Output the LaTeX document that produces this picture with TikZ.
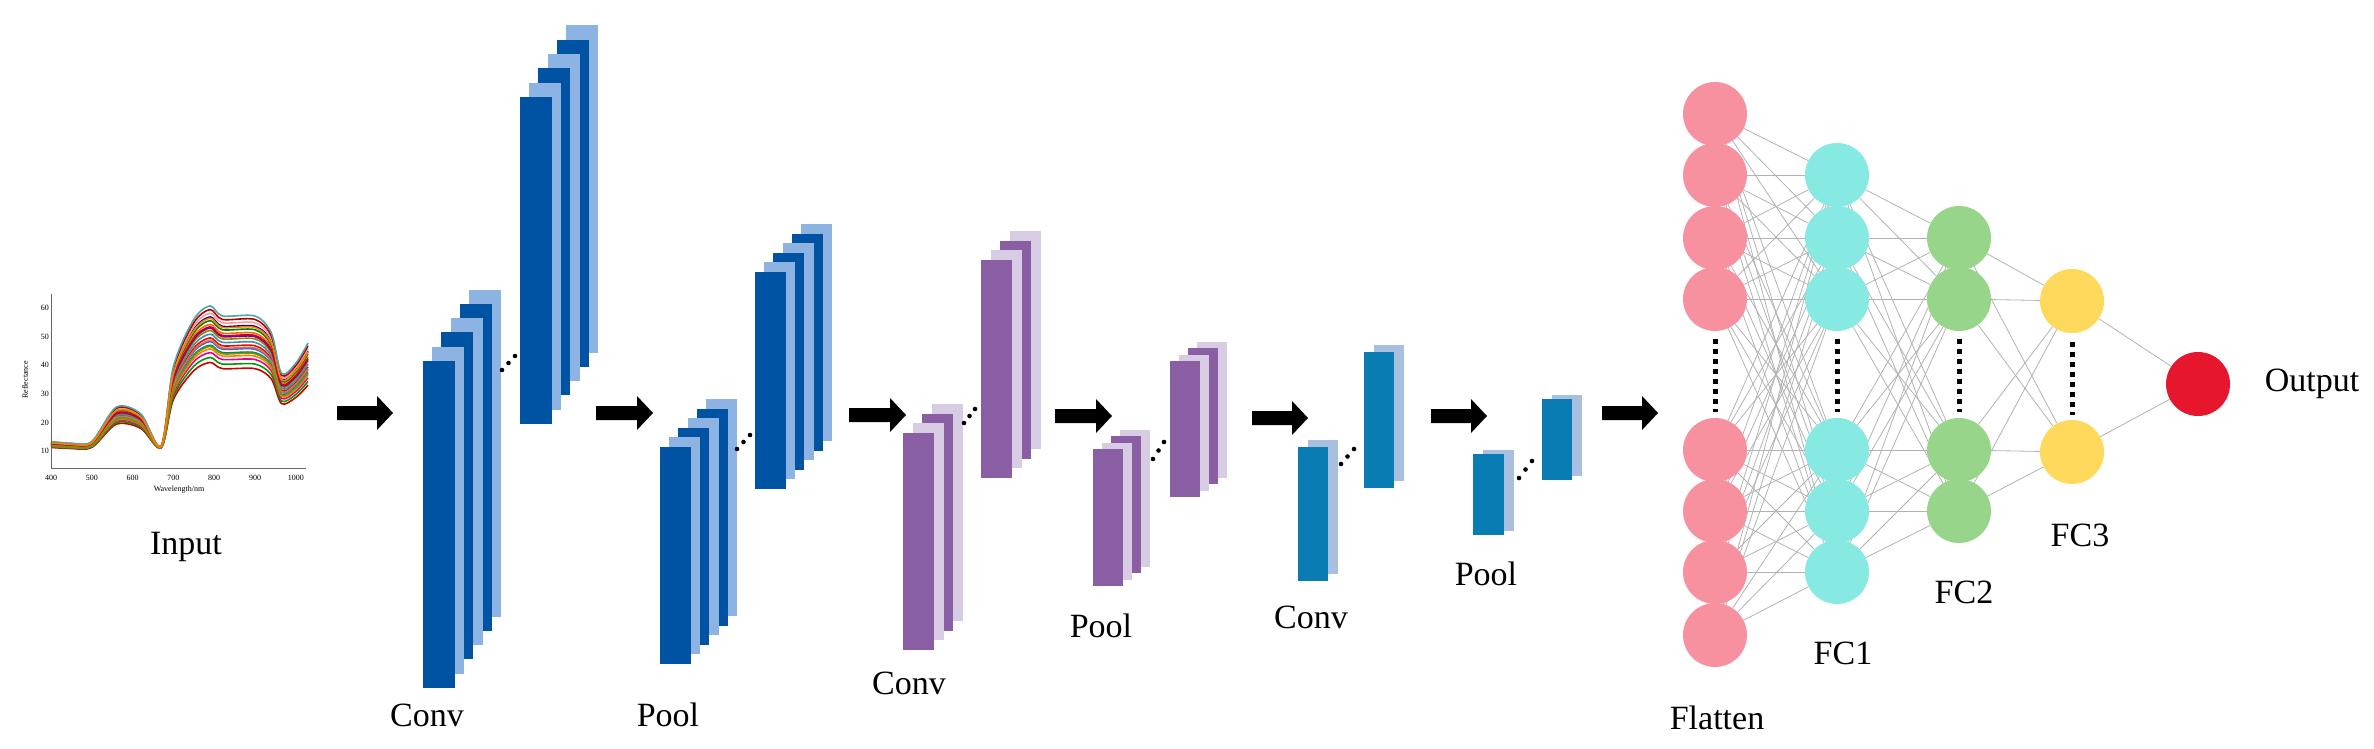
\documentclass[tikz,border=0pt]{standalone}
\usepackage{fontspec}
\setmainfont{Liberation Serif}
\usetikzlibrary{backgrounds}
\definecolor{dblue}{HTML}{0052A3}
\definecolor{lblue}{HTML}{8DB3E2}
\definecolor{dpurp}{HTML}{8A5EA2}
\definecolor{lpurp}{HTML}{D8CCE5}
\definecolor{tblue}{HTML}{0A7CB4}
\definecolor{ltblue}{HTML}{A8BFE0}
\definecolor{cpink}{HTML}{F8919F}
\definecolor{ccyan}{HTML}{86E9E2}
\definecolor{cgreen}{HTML}{97D68A}
\definecolor{cyell}{HTML}{FFD95B}
\definecolor{cred}{HTML}{E6162D}
\newcommand\fstack[9]{%
  \foreach \i in {#5,...,0}{%
    \pgfmathparse{int(mod(\i,2))}%
    \ifnum\pgfmathresult=0 \def\cc{#8}\else\def\cc{#9}\fi
    \fill[\cc] ({#1+\i*#6},{#2-\i*#7}) rectangle ++(#3,#4);
  }}
\newcommand\bigarr[3]{%
  \fill (#1,#3-7) -- (#2-16,#3-7) -- (#2-16,#3-17) -- (#2,#3) -- (#2-16,#3+17) -- (#2-16,#3+7) -- (#1,#3+7) -- cycle;}
\newcommand\tdots[4]{%
  \foreach \t in {0,0.5,1}{\fill ({#1+\t*(#3-#1)},{#2+\t*(#4-#2)}) circle (2.3);}}
\begin{document}
\begin{tikzpicture}[x=1pt,y=-1pt,
  lab/.style={font=\fontsize{34}{36}\selectfont},
  neu/.style={circle,minimum size=64pt,inner sep=0pt},
  edge/.style={gray!60,line width=0.8pt},
  vdots/.style={line width=5pt,dash pattern=on 5pt off 5pt}]
\useasboundingbox (0,0) rectangle (2374,749);
% ---------- input plot ----------
\begin{scope}[shift={(51,451)},x=0.408pt,y=2.86pt]
  \foreach \k/\c [count=\n] in {0.72/red!80!black,0.76/green!60!black,0.8/magenta,0.83/orange,0.86/teal,0.89/blue!70,0.92/red,0.95/cyan!70!black,0.98/olive,1.0/violet,1.03/orange!80!red,1.06/green!50!black,1.09/blue!60!black,1.12/pink!80!red,1.15/red!70!black,1.18/teal!70,0.9/brown,1.01/purple,0.85/lime!60!black,1.08/orange}{
    \draw[\c,line width=1.6pt] plot[smooth] coordinates {(0,{4.5*\k-2}) (50,{4*\k-2}) (100,{4.5*\k-2}) (160,{13*\k}) (220,{11*\k}) (270,{1.5*\k}) (300,{25*\k}) (350,{39*\k}) (390,{43*\k}) (420,{40*\k}) (500,{40*\k}) (540,{35*\k}) (565,{23*\k}) (600,{26*\k}) (630,{32*\k})};
  }
\end{scope}
\draw[gray!80!black,line width=0.8pt] (51,294) -- (51,468) -- (306,468);
\foreach \v in {10,20,...,60}{
  \node[font=\fontsize{8}{9}\selectfont,anchor=east,inner sep=1pt] (yt\v) at (50,{451-(\v-10)*2.86}) {\v};}
\foreach \v in {400,500,...,1000}{
  \node[font=\fontsize{8}{9}\selectfont,inner sep=1pt] (xt\v) at ({51+(\v-400)*0.408},478) {\v};}
\node[font=\fontsize{8}{9}\selectfont,inner sep=1pt] (xl) at (179,490) {Wavelength/nm};
\node[font=\fontsize{8}{9}\selectfont,inner sep=1pt,rotate=90] (yl) at (25,380) {Reflectance};
\node[lab] (tin) at (186,547) {Input};
% ---------- arrows ----------
\bigarr{337}{393}{413}
\bigarr{596}{653}{413}
\bigarr{849}{906}{415}
\bigarr{1055}{1112}{416}
\bigarr{1252}{1308}{418}
\bigarr{1431}{1487}{416}
\bigarr{1602}{1658}{413}
% ---------- feature maps ----------
\fstack{423}{361}{32}{327}{5}{9.2}{14.3}{dblue}{lblue}
\tdots{502}{370}{515}{356}
\fstack{520}{97}{32}{327}{5}{9.2}{14.3}{dblue}{lblue}
\node[lab] (t1) at (427,715) {Conv};
\fstack{660}{447}{31}{217}{5}{9.2}{9.6}{dblue}{lblue}
\tdots{737}{449}{750}{435}
\fstack{755}{272}{31}{217}{5}{9.2}{9.6}{dblue}{lblue}
\node[lab] (t2) at (668,715) {Pool};
\fstack{903}{433}{31}{217}{3}{9.6}{9.6}{dpurp}{lpurp}
\tdots{964}{423}{975}{409}
\fstack{981}{260}{31}{218}{3}{9.6}{9.6}{dpurp}{lpurp}
\node[lab] (t3) at (909,683) {Conv};
\fstack{1093}{449}{30}{137}{3}{9}{6.4}{dpurp}{lpurp}
\tdots{1153}{459}{1164}{442}
\fstack{1170}{361}{30}{136}{3}{9}{6.4}{dpurp}{lpurp}
\node[lab] (t4) at (1101,626) {Pool};
\fstack{1298}{447}{30}{134}{1}{10}{7}{tblue}{ltblue}
\tdots{1341}{464}{1354}{449}
\fstack{1364}{352}{30}{136}{1}{10}{7}{tblue}{ltblue}
\node[lab] (t5) at (1311,617) {Conv};
\fstack{1473}{454}{31}{81}{1}{10}{4}{tblue}{ltblue}
\tdots{1519}{478}{1532}{461}
\fstack{1542}{399}{30}{81}{1}{10}{4}{tblue}{ltblue}
\node[lab] (t6) at (1486,574) {Pool};
% ---------- dense layers ----------
\foreach \y [count=\i] in {114,175,238,299,450,511,572,635}
  \node[neu,fill=cpink] (f\i) at (1715,\y) {};
\foreach \y [count=\i] in {175,238,299,450,511,572}
  \node[neu,fill=ccyan] (a\i) at (1837,\y) {};
\foreach \y [count=\i] in {238,299,450,511}
  \node[neu,fill=cgreen] (b\i) at (1959,\y) {};
\foreach \y [count=\i] in {301,452}
  \node[neu,fill=cyell] (c\i) at (2072,\y) {};
\node[neu,fill=cred] (o) at (2198,384) {};
\begin{scope}[on background layer]
  \foreach \i in {1,...,8}\foreach \j in {1,...,6}\draw[edge] (f\i) -- (a\j);
  \foreach \i in {1,...,6}\foreach \j in {1,...,4}\draw[edge] (a\i) -- (b\j);
  \foreach \i in {1,...,4}\foreach \j in {1,2}\draw[edge] (b\i) -- (c\j);
  \foreach \j in {1,2}\draw[edge] (c\j) -- (o);
\end{scope}
\draw[vdots] (1715,339) -- (1715,412);
\draw[vdots] (1837,339) -- (1837,412);
\draw[vdots] (1959,339) -- (1959,412);
\draw[vdots] (2072,342) -- (2072,415);
\node[lab] (tf) at (1717,718) {Flatten};
\node[lab] (tc1) at (1843,653) {FC1};
\node[lab] (tc2) at (1964,592) {FC2};
\node[lab] (tc3) at (2080,535) {FC3};
\node[lab] (to) at (2312,384) {Output};
\end{tikzpicture}
\end{document}
